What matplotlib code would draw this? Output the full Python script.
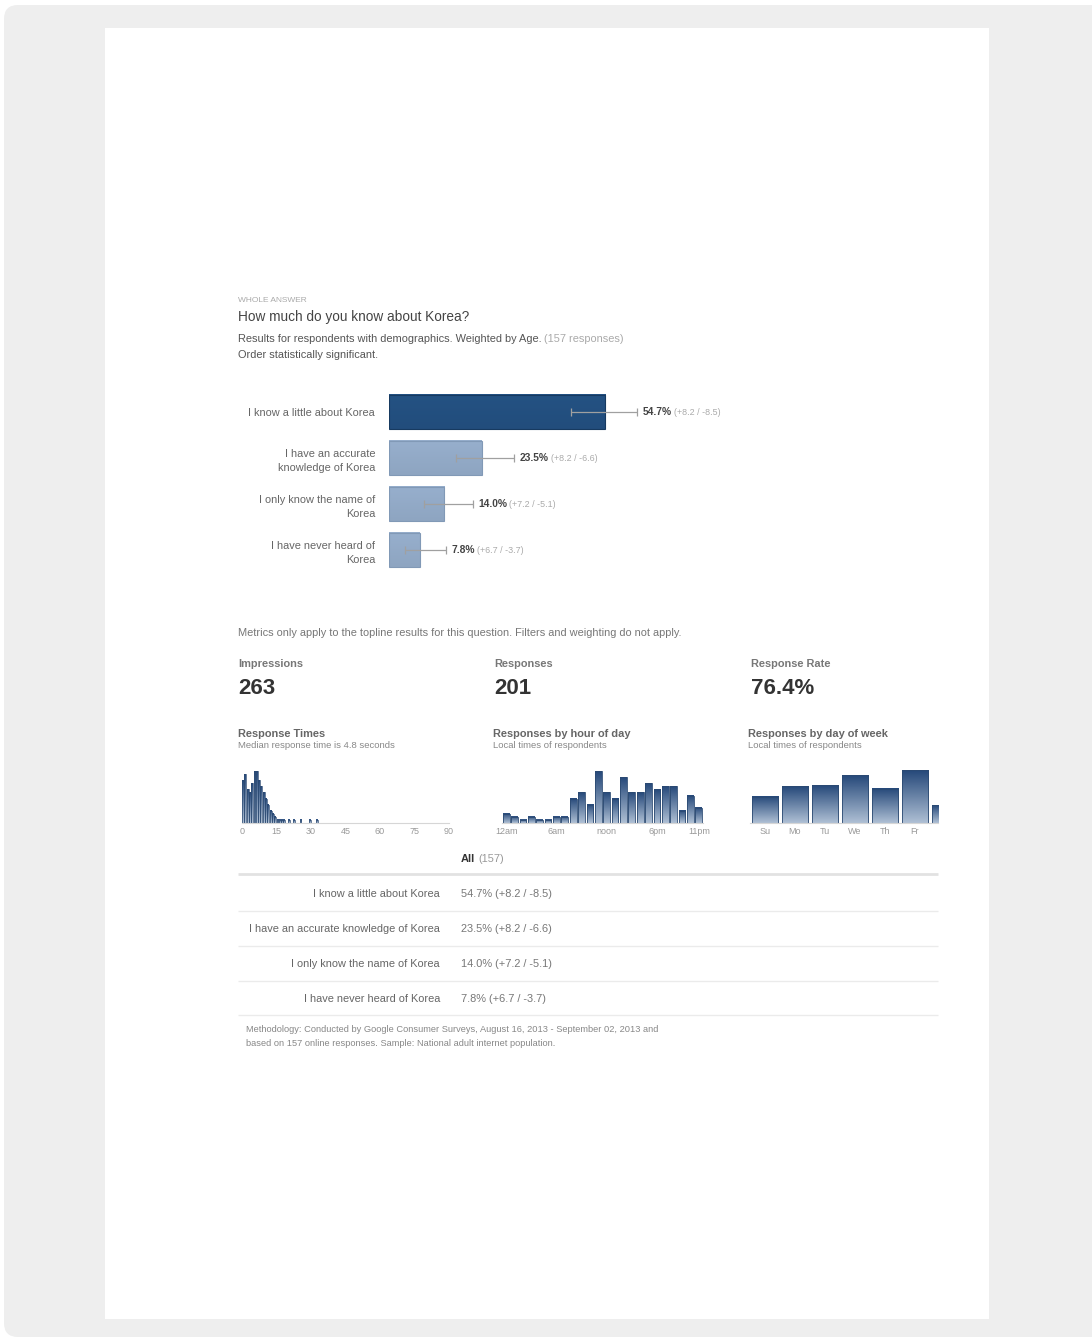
import numpy as np
import matplotlib
matplotlib.use('Agg')
from matplotlib import pyplot as plt
from matplotlib.colors import LinearSegmentedColormap, to_rgb, to_hex
from matplotlib.patches import FancyBboxPatch, Rectangle

plt.rcParams['font.family'] = ['Liberation Sans', 'DejaVu Sans']

# survey answers and weighted shares (%)
answers = ['I know a little about Korea',
           'I have an accurate knowledge of Korea',
           'I only know the name of Korea',
           'I have never heard of Korea']
answer_labels = ['I know a little about Korea',
                 'I have an accurate\nknowledge of Korea',
                 'I only know the name of\nKorea',
                 'I have never heard of\nKorea']
shares = [54.7, 23.5, 14.0, 7.8]
err_plus = [8.2, 8.2, 7.2, 6.7]
err_minus = [8.5, 6.6, 5.1, 3.7]
n_weighted = 157

impressions = 263
responses = 201

# response times, one bin per second
time_seconds = list(range(33))
time_counts = [14, 16, 11, 10, 13, 17, 17, 14, 12, 10, 8, 6, 4, 3, 2, 1, 1,
               1, 1, 0, 1, 0, 1, 0, 0, 1, 0, 0, 0, 1, 0, 0, 1]
time_ticks = [0, 15, 30, 45, 60, 75, 90]

hours = list(range(24))
hour_counts = [3, 2, 1, 2, 1, 1, 2, 2, 8, 10, 6, 17, 10, 8, 15, 10, 10, 13,
               11, 12, 12, 4, 9, 5]
hour_ticks = [0, 6, 12, 18, 23]
hour_tick_labels = ['12am', '6am', 'noon', '6pm', '11pm']

day_names = ['Su', 'Mo', 'Tu', 'We', 'Th', 'Fr', 'Sa']
day_counts = [21, 29, 30, 38, 27, 42, 14]

W, H = 1092, 1340
fig = plt.figure(figsize=(W / 100, H / 100), dpi=100)
fig.patch.set_facecolor('white')

# full-page axes in pixel units for the frame, texts and rules
base = fig.add_axes([0, 0, 1, 1])
base.set_xlim(0, W)
base.set_ylim(H, 0)
base.axis('off')

base.add_patch(FancyBboxPatch((4, 5), W + 30, H - 8,
                              boxstyle='round,pad=0,rounding_size=14',
                              facecolor='#eeeeee', edgecolor='none'))
base.add_patch(Rectangle((105, 28), 884, 1291, facecolor='white',
                         edgecolor='none'))


def px_axes(x0, y0, x1, y1):
    return fig.add_axes([x0 / W, 1 - y1 / H, (x1 - x0) / W, (y1 - y0) / H])


def txt(x, y, s, size=8, color='#555555', **kw):
    return base.text(x, y, s, fontsize=size, color=color, va='center', **kw)


def txt_after(t, s, size=8, color='#999999', gap=2, **kw):
    return base.annotate(s, xy=(1, 0), xycoords=t, xytext=(gap, 0),
                         textcoords='offset points', fontsize=size,
                         color=color, va='bottom', **kw)


def rule(y, x0=238, x1=938, color='#ebebeb', lw=1.0):
    base.plot([x0, x1], [y, y], color=color, lw=lw, solid_capstyle='butt')


def gradient_fill(ax, patches, top, bottom, xmax=None):
    cmap = LinearSegmentedColormap.from_list('bar', [bottom, top])
    grad = np.linspace(0, 1, 64).reshape(-1, 1)
    for p in patches:
        x, y = p.get_x(), p.get_y()
        x1 = x + p.get_width()
        if xmax is not None:
            x1 = min(x1, xmax)
        im = ax.imshow(grad, cmap=cmap, origin='lower', aspect='auto',
                       extent=[x, x1, y, y + p.get_height()],
                       zorder=p.get_zorder() - 0.1)
        im.set_clip_path(p)
        im.set_clip_box(ax.bbox)


# header
txt(238, 301, 'WHOLE ANSWER', size=6, color='#aaaaaa')
txt(238, 317, 'How much do you know about Korea?', size=9.8, color='#444444')
t = txt(238, 339, 'Results for respondents with demographics. Weighted by Age.',
        size=7.9)
txt_after(t, '(%d responses)' % n_weighted, size=7.9, color='#aaaaaa')
txt(238, 355, 'Order statistically significant.', size=7.9)

# topline bars
ax = px_axes(389, 389, 784, 573)
ypos = np.arange(len(shares))
bar_colors = ['#224d7c', '#8ea5c1', '#8ea5c1', '#8ea5c1']
edge_colors = ['#173a60', '#8199b6', '#8199b6', '#8199b6']
bars = ax.barh(ypos, shares, height=0.74, color='none',
               edgecolor=edge_colors, lw=0.8, zorder=2)
for p, c in zip(bars, bar_colors):
    lighter = to_hex(np.clip(np.array(to_rgb(c)) * 1.06, 0, 1))
    gradient_fill(ax, [p], c, lighter)
ax.errorbar(shares, ypos, xerr=[err_minus, err_plus], fmt='none',
            ecolor='#a0a0a0', elinewidth=0.9, capsize=3, capthick=0.9,
            zorder=3)
for i, v in enumerate(shares):
    a = ax.annotate('%.1f%%' % v, xy=(v + err_plus[i], i), xytext=(4, 0),
                    textcoords='offset points', va='center', fontsize=7.4,
                    fontweight='bold', color='#444444')
    ax.annotate('(+%.1f / -%.1f)' % (err_plus[i], err_minus[i]), xy=(1, 0),
                xycoords=a, xytext=(1.5, 0), textcoords='offset points',
                va='bottom', fontsize=6.4, color='#aaaaaa')
ax.set_xlim(0, 100)
ax.set_ylim(3.5, -0.5)
ax.set_yticks(ypos)
ax.set_yticklabels(answer_labels, fontsize=7.9, color='#666666',
                   linespacing=1.45)
for lab in ax.get_yticklabels():
    lab.set_multialignment('right')
ax.tick_params(axis='y', length=0, pad=10)
ax.set_xticks([])
for s in ax.spines.values():
    s.set_visible(False)
ax.patch.set_alpha(0)

# metrics
txt(238, 633, 'Metrics only apply to the topline results for this question. '
    'Filters and weighting do not apply.', size=7.9, color='#777777')
metrics = [('Impressions', '%d' % impressions),
           ('Responses', '%d' % responses),
           ('Response Rate', '%.1f%%' % (100.0 * responses / impressions))]
for x, (name, val) in zip([238, 494, 751], metrics):
    txt(x, 664, name, size=7.9, color='#777777', fontweight='bold')
    txt(x, 688, val, size=16, color='#333333', fontweight='bold')

small = [(238, 'Response Times', 'Median response time is 4.8 seconds'),
         (493, 'Responses by hour of day', 'Local times of respondents'),
         (748, 'Responses by day of week', 'Local times of respondents')]
for x, title, sub in small:
    txt(x, 734, title, size=7.9, color='#666666', fontweight='bold')
    txt(x, 746, sub, size=6.8, color='#888888')


def style_small(a, ymax):
    a.set_ylim(0, ymax)
    a.set_yticks([])
    for k, s in a.spines.items():
        s.set_visible(k == 'bottom')
    a.spines['bottom'].set_color('#d6d6d6')
    a.spines['bottom'].set_linewidth(0.8)
    a.tick_params(axis='x', length=0, pad=3, labelsize=6.5,
                  labelcolor='#999999')
    a.patch.set_alpha(0)


top_c, bottom_c = '#26497a', '#aebfd4'

a1 = px_axes(242, 768, 449, 823)
b = a1.bar(time_seconds, time_counts, width=0.85, align='edge', color='none',
           edgecolor='#2b4a72', lw=0.5, zorder=2)
gradient_fill(a1, b, top_c, bottom_c)
a1.set_xlim(0, 90)
a1.set_xticks(time_ticks)
style_small(a1, 18)

a2 = px_axes(502, 768, 703, 823)
b = a2.bar(hours, hour_counts, width=0.8, color='none', edgecolor='#2b4a72',
           lw=0.6, zorder=2)
gradient_fill(a2, b, top_c, bottom_c)
a2.set_xlim(-0.5, 23.5)
a2.set_xticks(hour_ticks)
a2.set_xticklabels(hour_tick_labels)
style_small(a2, 18)

# the week strip is cut off on the right, Saturday only shows a sliver
day_right = 5.77
a3 = px_axes(750, 768, 938, 823)
b = a3.bar(range(len(day_names)), day_counts, width=0.87, color='none',
           edgecolor='#2b4a72', lw=0.6, zorder=2)
gradient_fill(a3, b, top_c, bottom_c, xmax=day_right)
a3.set_xlim(-0.5, day_right)
a3.set_xticks(range(6))
a3.set_xticklabels(day_names[:6])
style_small(a3, 43.6)

# crosstab table
t = txt(461, 859, 'All', size=7.9, color='#333333', fontweight='bold')
txt_after(t, '(%d)' % n_weighted, size=7.9, color='#999999')
rule(874, color='#e2e2e2', lw=2)
for i, y in enumerate([894, 929, 964, 999]):
    txt(440, y, answers[i], size=7.9, color='#666666', ha='right')
    txt(461, y, '%.1f%% (+%.1f / -%.1f)' % (shares[i], err_plus[i],
                                          err_minus[i]),
        size=7.9, color='#777777')
for y in [911, 946, 981, 1015]:
    rule(y)

txt(246, 1030, 'Methodology: Conducted by Google Consumer Surveys, August 16, '
    '2013 - September 02, 2013 and', size=6.7, color='#888888')
txt(246, 1043, 'based on %d online responses. Sample: National adult internet '
    'population.' % n_weighted, size=6.7, color='#888888')

fig.savefig('out.png', dpi=100, facecolor='white')
